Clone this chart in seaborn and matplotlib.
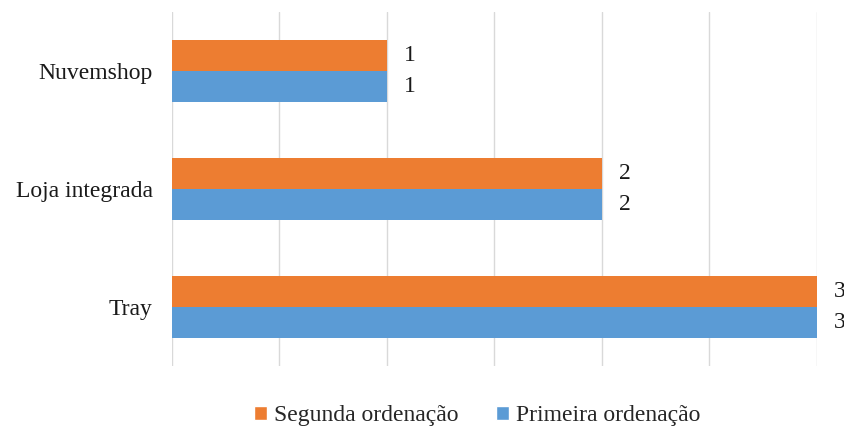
import matplotlib
matplotlib.use("Agg")
import matplotlib.pyplot as plt
import seaborn as sns
import pandas as pd
from matplotlib.patches import Patch

categories = ["Nuvemshop", "Loja integrada", "Tray"]
series_names = ["Segunda ordenação", "Primeira ordenação"]
segunda = [1, 2, 3]
primeira = [1, 2, 3]
colors = ["#ED7D31", "#5B9BD5"]

df = pd.DataFrame({
    "cat": categories * 2,
    "serie": [series_names[0]] * 3 + [series_names[1]] * 3,
    "val": segunda + primeira,
})

sns.set_theme(style="white")
plt.rcParams["font.family"] = ["Liberation Serif", "DejaVu Serif"]

fig = plt.figure(figsize=(8.45, 4.28), dpi=100)
ax = fig.add_axes([172/845, 1-366/428, (817-172)/845, (366-12)/428])

sns.barplot(data=df, y="cat", x="val", hue="serie", order=categories,
            hue_order=series_names, palette=colors, orient="h",
            width=0.52, ax=ax, legend=False, saturation=1, errorbar=None,
            linewidth=0, edgecolor="none")

ax.set_xlim(0, 3)
ax.set_ylim(2.5, -0.5)
ax.set_xticks([0, 0.5, 1, 1.5, 2, 2.5, 3])
ax.set_xticklabels([])
ax.xaxis.grid(True, color="#d9d9d9", linewidth=1)
ax.set_axisbelow(True)
for s in ax.spines.values():
    s.set_visible(False)
ax.set_xlabel("")
ax.set_ylabel("")
ax.tick_params(axis="y", length=0, pad=14, labelsize=17)
ax.tick_params(axis="x", length=0)
for lab in ax.get_yticklabels():
    lab.set_color("#1a1a1a")

for cont in ax.containers:
    texts = ax.bar_label(cont, padding=12, fontsize=17, color="#1a1a1a")
    for t in texts:
        t.set_clip_on(False)

handles = [Patch(facecolor=c, label=n) for c, n in zip(colors, series_names)]
fig.legend(handles=handles, loc="lower center", ncol=2, frameon=False,
           bbox_to_anchor=(0.565, -0.045), fontsize=17, handlelength=0.55,
           handleheight=0.55, handletextpad=0.3, columnspacing=1.6)

fig.savefig("out.png", dpi=100)
